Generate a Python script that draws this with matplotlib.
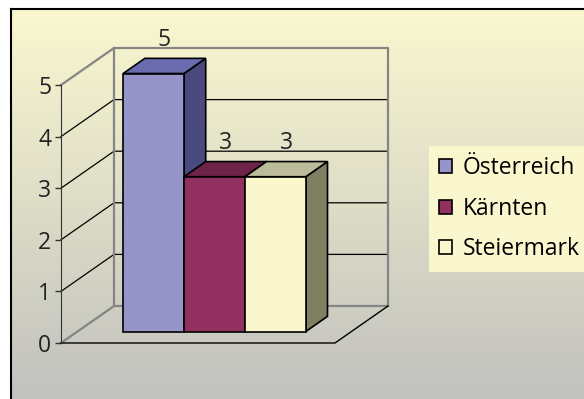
import numpy as np
import matplotlib.pyplot as plt
from matplotlib.patches import Polygon, Patch

regions = ['Österreich', 'Kärnten', 'Steiermark']
counts = [5, 3, 3]
y_ticks = [0, 1, 2, 3, 4, 5]
front_colors = ['#9694C8', '#923060', '#FAF7CD']
top_colors = ['#6B6BB0', '#6E2348', '#BDBC9A']
side_colors = ['#4A4A7E', '#5A1C3A', '#7F7F62']

W, H = 584, 399
plt.rcParams['font.family'] = ['Open Sans', 'DejaVu Sans']
fig = plt.figure(figsize=(W / 100, H / 100), dpi=100)

# chart area background: vertical gradient, framed left and top
bg = fig.add_axes([11 / W, 0, 1 - 11 / W, 1 - 9 / H])
grad = np.linspace(0, 1, 256)[:, None, None]
top_rgb = np.array([250, 248, 207]) / 255
bot_rgb = np.array([193, 193, 191]) / 255
img = top_rgb * (1 - grad) + bot_rgb * grad
bg.imshow(img, aspect='auto', extent=(0, 1, 0, 1))
bg.set_xticks([])
bg.set_yticks([])
for s in ['right', 'bottom']:
    bg.spines[s].set_visible(False)
for s in ['left', 'top']:
    bg.spines[s].set_linewidth(1.5)

# plot axes: x runs 0..1 along the front floor edge, y in value units
x0_px, x1_px = 61, 335
v0_px, unit_px = 343, 51.6
L, R, T, B = 15, 420, 15, 390
ax = fig.add_axes([L / W, 1 - B / H, (R - L) / W, (B - T) / H])
ax.set_xlim((L - x0_px) / (x1_px - x0_px), (R - x0_px) / (x1_px - x0_px))
ax.set_ylim((v0_px - B) / unit_px, (v0_px - T) / unit_px)
ax.patch.set_visible(False)

# depth direction (front -> back wall)
DX = 53 / (x1_px - x0_px)
DY = 37 / unit_px


def proj(x, v, d):
    return x + d * DX, v + d * DY


vmax = y_ticks[-1]
grey = '#858585'

# back wall and side wall gridlines
for v in y_ticks[1:-1]:
    xs, ys = zip(proj(0, v, 0), proj(0, v, 1), proj(1, v, 1))
    ax.plot(xs, ys, color='black', lw=0.9, zorder=1, clip_on=False)

# wall edges
for pts in [[proj(0, vmax, 0), proj(0, vmax, 1), proj(1, vmax, 1), proj(1, 0, 1)],
            [proj(0, 0, 0), proj(0, 0, 1), proj(1, 0, 1)],
            [proj(0, 0, 1), proj(0, vmax, 1)]]:
    xs, ys = zip(*pts)
    ax.plot(xs, ys, color=grey, lw=1.6, zorder=1.5, clip_on=False)

# floor front and right edges
xs, ys = zip(proj(0, 0, 0), proj(1, 0, 0), proj(1, 0, 1))
ax.plot(xs, ys, color='black', lw=1.0, zorder=1.6, clip_on=False)

# bars
n = len(counts)
width = 2 / 9
start = 0.5 - n * width / 2
d0, d1 = 0.31, 0.72
for i, c in enumerate(counts):
    xa = start + i * width
    xb = xa + width
    z = 3 + i
    side = [proj(xb, 0, d0), proj(xb, c, d0), proj(xb, c, d1), proj(xb, 0, d1)]
    top = [proj(xa, c, d0), proj(xb, c, d0), proj(xb, c, d1), proj(xa, c, d1)]
    ax.add_patch(Polygon(side, closed=True, facecolor=side_colors[i],
                         edgecolor='black', lw=1.2, zorder=z, clip_on=False))
    ax.add_patch(Polygon(top, closed=True, facecolor=top_colors[i],
                         edgecolor='black', lw=1.2, zorder=z + 0.1, clip_on=False))
    ax.bar(xa + d0 * DX, c, width=width, bottom=d0 * DY, align='edge',
           color=front_colors[i], edgecolor='black', lw=1.2, zorder=z + 0.2,
           clip_on=False)
    ax.annotate(str(c), xy=proj((xa + xb) / 2, c, (d0 + d1) / 2),
                xytext=(0, 18.5), textcoords='offset points',
                ha='center', va='center', fontsize=16.5, color='#222222')

# value axis on the front left edge
for s in ['right', 'top', 'bottom']:
    ax.spines[s].set_visible(False)
ax.spines['left'].set_position(('data', 0))
ax.spines['left'].set_bounds(0, vmax)
ax.spines['left'].set_color('#333333')
ax.spines['left'].set_zorder(2)
ax.set_xticks([])
ax.set_yticks(y_ticks)
ax.tick_params(axis='y', length=4, width=1, color='#333333',
               labelsize=16.5, labelcolor='#222222', pad=3)

handles = [Patch(facecolor=fc, edgecolor='black', lw=1.2) for fc in front_colors]
fig.legend(handles, regions, loc='upper left',
           bbox_to_anchor=(429 / W, 1 - 146 / H), bbox_transform=fig.transFigure,
           frameon=True, facecolor='#FAF7CF', edgecolor='none', framealpha=1,
           fancybox=False, fontsize=16.5, handlelength=0.57, handleheight=0.57,
           handletextpad=0.45, labelspacing=0.72, borderpad=0.45, borderaxespad=0)

fig.savefig('out.png', dpi=100)
